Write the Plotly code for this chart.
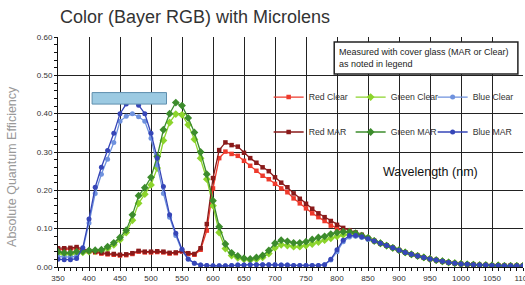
import plotly.graph_objects as go

wavelength = [350, 360, 370, 380, 390, 400, 410, 420, 430, 440, 450, 460, 470, 480, 490,
              500, 510, 520, 530, 540, 550, 560, 570, 580, 590, 600, 610, 620, 630, 640,
              650, 660, 670, 680, 690, 700, 710, 720, 730, 740, 750, 760, 770, 780, 790,
              800, 810, 820, 830, 840, 850, 860, 870, 880, 890, 900, 910, 920, 930, 940,
              950, 960, 970, 980, 990, 1000, 1010, 1020, 1030, 1040, 1050, 1060, 1070,
              1080, 1090, 1100]

tail = [0.068, 0.062, 0.056, 0.050, 0.044, 0.038, 0.033, 0.029, 0.025, 0.021, 0.018,
        0.015, 0.012, 0.010, 0.008, 0.007, 0.006, 0.005, 0.005, 0.004, 0.004, 0.003,
        0.003, 0.003, 0.003]

red_clear = [0.045, 0.046, 0.047, 0.048, 0.043, 0.040, 0.038, 0.035, 0.033, 0.032,
             0.030, 0.031, 0.034, 0.040, 0.038, 0.038, 0.039, 0.038, 0.035, 0.036,
             0.040, 0.034, 0.032, 0.045, 0.095, 0.205, 0.284, 0.301, 0.295, 0.290,
             0.277, 0.264, 0.251, 0.238, 0.229, 0.217, 0.205, 0.195, 0.179, 0.166,
             0.153, 0.140, 0.130, 0.120, 0.108, 0.100, 0.094, 0.089, 0.085, 0.080,
             0.075] + tail
red_mar = [0.049, 0.049, 0.050, 0.052, 0.046, 0.042, 0.040, 0.037, 0.035, 0.034,
           0.032, 0.033, 0.036, 0.042, 0.040, 0.040, 0.041, 0.040, 0.037, 0.038,
           0.042, 0.036, 0.034, 0.049, 0.112, 0.232, 0.305, 0.325, 0.318, 0.314,
           0.298, 0.284, 0.272, 0.260, 0.250, 0.234, 0.220, 0.208, 0.192, 0.178,
           0.165, 0.152, 0.140, 0.130, 0.120, 0.110, 0.102, 0.096, 0.090, 0.084,
           0.076] + tail
green_clear = [0.035, 0.033, 0.033, 0.036, 0.038, 0.040, 0.041, 0.042, 0.048, 0.058,
               0.071, 0.090, 0.122, 0.166, 0.190, 0.214, 0.258, 0.330, 0.377, 0.399,
               0.397, 0.371, 0.333, 0.284, 0.229, 0.160, 0.090, 0.048, 0.030, 0.024,
               0.020, 0.018, 0.020, 0.025, 0.035, 0.050, 0.058, 0.056, 0.053, 0.053,
               0.056, 0.060, 0.065, 0.070, 0.075, 0.080, 0.084, 0.085, 0.083, 0.080,
               0.075] + tail
green_mar = [0.040, 0.037, 0.037, 0.040, 0.041, 0.043, 0.044, 0.045, 0.053, 0.063,
             0.077, 0.096, 0.136, 0.186, 0.207, 0.234, 0.288, 0.358, 0.400, 0.429,
             0.421, 0.389, 0.351, 0.300, 0.242, 0.173, 0.105, 0.060, 0.037, 0.029,
             0.023, 0.021, 0.025, 0.030, 0.043, 0.062, 0.070, 0.067, 0.063, 0.063,
             0.066, 0.072, 0.077, 0.080, 0.086, 0.090, 0.092, 0.092, 0.088, 0.082,
             0.076] + tail
blue_clear = [0.027, 0.026, 0.026, 0.028, 0.045, 0.115, 0.192, 0.242, 0.281, 0.325,
              0.380, 0.393, 0.400, 0.392, 0.380, 0.336, 0.266, 0.192, 0.130, 0.082,
              0.042, 0.020, 0.010, 0.005, 0.004, 0.003, 0.003, 0.003, 0.004, 0.005,
              0.005, 0.006, 0.006, 0.006, 0.006, 0.006, 0.005, 0.005, 0.004, 0.004,
              0.004, 0.004, 0.004, 0.006, 0.018, 0.040, 0.066, 0.078, 0.080, 0.077,
              0.072] + tail
blue_mar = [0.020, 0.019, 0.019, 0.022, 0.050, 0.125, 0.208, 0.260, 0.304, 0.349,
            0.400, 0.425, 0.433, 0.422, 0.400, 0.349, 0.284, 0.210, 0.136, 0.088,
            0.046, 0.021, 0.010, 0.005, 0.004, 0.003, 0.003, 0.003, 0.004, 0.005,
            0.005, 0.006, 0.006, 0.006, 0.006, 0.006, 0.005, 0.005, 0.004, 0.004,
            0.004, 0.004, 0.004, 0.006, 0.020, 0.045, 0.070, 0.082, 0.082, 0.079,
            0.074] + tail

band_x = [405, 525]
band_y = [0.425, 0.455]

FONT = "Liberation Sans, Arial, sans-serif"

series = [
    ("Red Clear", red_clear, "#ee3a2c", "square", 4.5, "legend"),
    ("Green Clear", green_clear, "#8cd42c", "diamond", 6, "legend"),
    ("Blue Clear", blue_clear, "#6f92de", "circle", 5, "legend"),
    ("Red MAR", red_mar, "#8a1a1a", "square", 4.5, "legend2"),
    ("Green MAR", green_mar, "#3c8c2c", "diamond", 6, "legend2"),
    ("Blue MAR", blue_mar, "#3646b8", "circle", 5, "legend2"),
]

fig = go.Figure()
for name, vals, color, sym, size, lg in series:
    fig.add_trace(go.Scatter(
        x=wavelength, y=vals, name=name, mode="lines+markers",
        line=dict(color=color, width=1.3),
        marker=dict(color=color, symbol=sym, size=size),
        legend=lg,
    ))

fig.add_shape(type="rect", xref="x", yref="y",
              x0=band_x[0], x1=band_x[1], y0=band_y[0], y1=band_y[1],
              fillcolor="#9ccae2", line=dict(color="#5f8fae", width=1), layer="above")

# note box
fig.add_shape(type="rect", xref="paper", yref="paper",
              x0=0.594, x1=0.989, y0=0.839, y1=0.978,
              fillcolor="white", line=dict(color="#222", width=1.5), layer="above")
fig.add_annotation(xref="paper", yref="paper", x=0.599, y=0.909, xanchor="left",
                   yanchor="middle", align="left", showarrow=False,
                   text="Measured with cover glass (MAR or Clear)<br>as noted in legend",
                   font=dict(family=FONT, size=9, color="#222"))

fig.add_annotation(xref="paper", yref="paper", x=0.80, y=0.413, xanchor="center",
                   yanchor="middle", showarrow=False,
                   text="Wavelength (nm)", font=dict(family=FONT, size=12.5, color="#111"))

fig.add_annotation(xref="paper", yref="paper", x=0.0, y=1.087, xanchor="left",
                   yanchor="middle", showarrow=False,
                   text="Color (Bayer RGB) with Microlens",
                   font=dict(family=FONT, size=18, color="#333"))

fig.add_annotation(xref="paper", yref="paper", x=0, y=0.435, xshift=-46,
                   xanchor="center", yanchor="middle",
                   textangle=-90, showarrow=False,
                   text="Absolute Quantum Efficiency",
                   font=dict(family=FONT, size=12.5, color="#999"))

legend_common = dict(orientation="h", xanchor="left", yanchor="middle",
                     bgcolor="rgba(0,0,0,0)", borderwidth=0,
                     font=dict(family=FONT, size=8.7, color="#333"),
                     entrywidth=37, entrywidthmode="pixels", itemwidth=30)

fig.update_layout(
    width=525, height=285,
    margin=dict(l=58, r=2, t=37, b=18, autoexpand=False),
    paper_bgcolor="white", plot_bgcolor="white",
    showlegend=True,
    legend=dict(x=0.453, y=0.739, **legend_common),
    legend2=dict(x=0.453, y=0.587, **legend_common),
    xaxis=dict(range=[350, 1100], dtick=50, tick0=350,
               showgrid=True, gridcolor="#222", gridwidth=1,
               showline=True, linecolor="#111", linewidth=1,
               ticks="outside", ticklen=3, tickcolor="#111",
               minor=dict(dtick=10, ticks="outside", ticklen=3, tickcolor="#111", showgrid=False),
               tickfont=dict(family=FONT, size=8, color="#333"),
               ticklabeloverflow="allow",
               zeroline=False, automargin=False),
    yaxis=dict(range=[0, 0.6], dtick=0.1, tickformat=".2f",
               showgrid=True, gridcolor="#222", gridwidth=1,
               showline=True, linecolor="#111", linewidth=1,
               ticks="outside", ticklen=3, tickcolor="#111",
               minor=dict(dtick=0.02, ticks="outside", ticklen=3, tickcolor="#111", showgrid=False),
               tickfont=dict(family=FONT, size=8, color="#333"),
               zeroline=False, automargin=False),
)

fig.write_html("out.html", config={"displayModeBar": False},
               post_script="document.body.style.margin='0';document.body.style.padding='0';")
